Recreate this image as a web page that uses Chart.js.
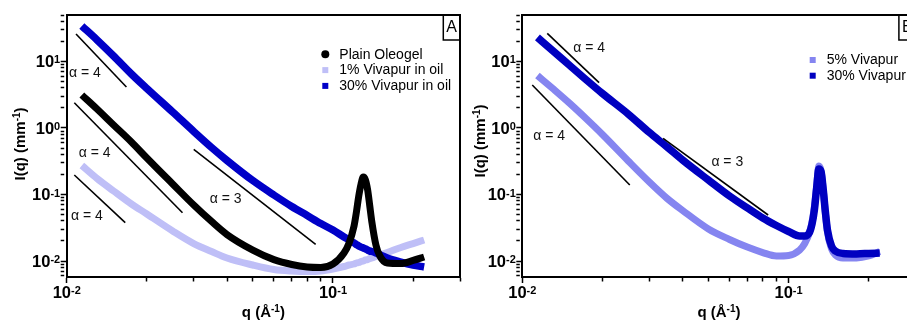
<!DOCTYPE html>
<html>
<head>
<meta charset="utf-8">
<script src="https://cdn.jsdelivr.net/npm/chart.js@4.4.1/dist/chart.umd.min.js"></script>
<style>
html, body { margin: 0; padding: 0; background: #fff; overflow: hidden; }
#wrap { position: relative; width: 907px; height: 320px; overflow: hidden; background: #fff; }
#cA { position: absolute; left: 0; top: 0; width: 467px; height: 320px; }
#cB { position: absolute; left: 467px; top: 0; width: 470px; height: 320px; }
</style>
</head>
<body>
<div id="wrap">
  <canvas id="cA" width="467" height="320"></canvas>
  <canvas id="cB" width="470" height="320"></canvas>
</div>
<script>
// ---------------- DATA ----------------
// Panel A : q (1/Å) and I(q) (1/mm)
const qA = [0.0114, 0.013, 0.015, 0.0175, 0.02, 0.025, 0.03, 0.035, 0.04, 0.05, 0.06, 0.07, 0.08, 0.09, 0.1,
            0.11, 0.115, 0.12, 0.1225, 0.125, 0.1275, 0.13, 0.1325, 0.135, 0.1375, 0.14, 0.145, 0.15, 0.16, 0.18, 0.2, 0.22];
const plainOleogel = [3.14, 1.93, 1.11, 0.616, 0.354, 0.144, 0.0695, 0.0393, 0.0250, 0.0146, 0.0105, 0.00886, 0.00813, 0.00799, 0.00902,
            0.0132, 0.0187, 0.0336, 0.0546, 0.0949, 0.144, 0.183, 0.165, 0.117, 0.0672, 0.0386, 0.0174, 0.0119, 0.00933, 0.00917, 0.0102, 0.0115];
const vivapur1 = [0.273, 0.174, 0.113, 0.0720, 0.0509, 0.0283, 0.0183, 0.0139, 0.0111, 0.00871, 0.00745, 0.00707, 0.00695, 0.00707, 0.00758,
            0.00827, 0.00871, 0.00902, 0.00933, 0.00949, 0.00983, 0.0100, 0.0104, 0.0105, 0.0109, 0.0111, 0.0117, 0.0123, 0.0134, 0.0160, 0.0183, 0.0207];
const vivapur30A = [34.2, 21.1, 12.1, 6.49, 3.93, 1.74, 0.886, 0.509, 0.325, 0.162, 0.0983, 0.0660, 0.0483, 0.0366, 0.0292,
            0.0230, 0.0207, 0.0187, 0.0177, 0.0168, 0.0162, 0.0157, 0.0152, 0.0146, 0.0141, 0.0139, 0.0132, 0.0125, 0.0111, 0.00966, 0.00871, 0.00813];

// Panel B
const qB = [0.0114, 0.013, 0.015, 0.0175, 0.02, 0.025, 0.03, 0.035, 0.04, 0.05, 0.06, 0.07, 0.08, 0.09, 0.1,
            0.11, 0.115, 0.12, 0.1225, 0.125, 0.1275, 0.13, 0.1325, 0.135, 0.1375, 0.14, 0.145, 0.15, 0.16, 0.18, 0.2, 0.22];
const vivapur5 = [6.16, 3.93, 2.38, 1.34, 0.798, 0.319, 0.154, 0.0871, 0.0575, 0.0303, 0.0211, 0.0162, 0.0134, 0.0119, 0.0121,
            0.0146, 0.0183, 0.0273, 0.0386, 0.0649, 0.134, 0.268, 0.226, 0.117, 0.0527, 0.0273, 0.0152, 0.0123, 0.0111, 0.0111, 0.0119, 0.0139];
const vivapur30B = [23.0, 14.6, 8.86, 5.18, 3.30, 1.62, 0.856, 0.518, 0.330, 0.165, 0.0949, 0.0627, 0.0443, 0.0342, 0.0278,
            0.0238, 0.0238, 0.0273, 0.0360, 0.0585, 0.125, 0.242, 0.218, 0.117, 0.0546, 0.0292, 0.0168, 0.0141, 0.0130, 0.0128, 0.0130, 0.0132];

// Power-law guide lines (two end points each) and their labels
const guideQA = [[0.01084, 0.01676], [0.01068, 0.02722], [0.01068, 0.01659], [0.0300, 0.0861]];
const guideIA = [[25.9, 4.14], [2.40, 0.0532], [0.1965, 0.0377], [0.478, 0.0178]];
const slopeTextA = ['α = 4', 'α = 4', 'α = 4', 'α = 3'];
const slopeQA = [0.0102, 0.01109, 0.01038, 0.03446];
const slopeIA = [6.71, 0.425, 0.0475, 0.0856];

const guideQB = [[0.01241, 0.01942], [0.0109, 0.02533], [0.03379, 0.0838]];
const guideIB = [[26.4, 4.80], [4.43, 0.139], [0.700, 0.0492]];
const slopeTextB = ['α = 4', 'α = 4', 'α = 3'];
const slopeQB = [0.01553, 0.011, 0.0513];
const slopeIB = [15.8, 0.745, 0.311];

// Axes
const xRange = [0.01, 0.3];
const yRange = [0.00575, 50];
const xTicks = [0.01, 0.02, 0.03, 0.04, 0.05, 0.06, 0.07, 0.08, 0.09, 0.1, 0.2, 0.3];
const yTicks = [0.006, 0.007, 0.008, 0.009, 0.01, 0.02, 0.03, 0.04, 0.05, 0.06, 0.07, 0.08, 0.09,
                0.1, 0.2, 0.3, 0.4, 0.5, 0.6, 0.7, 0.8, 0.9, 1, 2, 3, 4, 5, 6, 7, 8, 9, 10, 20, 30, 40, 50];
const xTitle = ['q (Å', '-1', ')'];
const yTitle = ['I(q) (mm', '-1', ')'];
const panelLetters = ['A', 'B'];

// ---------------- RENDERING ----------------
const FONT = '"Liberation Sans", Arial, Helvetica, sans-serif';
const isPow10 = v => Math.abs(Math.log10(v) - Math.round(Math.log10(v))) < 1e-9;

function series(q, I, label, color, width, order, shape) {
  return {
    label, data: q.map((v, i) => ({ x: v, y: I[i] })),
    borderColor: color, backgroundColor: color, borderWidth: width,
    pointRadius: 0, pointHoverRadius: 0, fill: false,
    cubicInterpolationMode: 'monotone', borderJoinStyle: 'round', borderCapStyle: 'butt',
    order, isSeries: true, markerShape: shape
  };
}
function guides(qs, Is) {
  return qs.map((q, i) => ({
    label: '', data: [{ x: q[0], y: Is[i][0] }, { x: q[1], y: Is[i][1] }],
    borderColor: '#000', borderWidth: 1.6, pointRadius: 0, pointHoverRadius: 0,
    fill: false, order: 0
  }));
}

function drawRich(ctx, pieces, x, y, align) {
  let w = 0;
  pieces.forEach(p => { ctx.font = p.f; p.w = ctx.measureText(p.t).width; w += p.w; });
  let cx = align === 'center' ? x - w / 2 : (align === 'right' ? x - w : x);
  ctx.textAlign = 'left';
  ctx.textBaseline = 'alphabetic';
  pieces.forEach(p => { ctx.font = p.f; ctx.fillText(p.t, cx, y - (p.r || 0)); cx += p.w; });
}
function powPieces(v) {
  return [{ t: '10', f: 'bold 16.5px ' + FONT }, { t: String(Math.round(Math.log10(v))), f: 'bold 11px ' + FONT, r: 3.9 }];
}
function titlePieces(parts) {
  return [{ t: parts[0], f: 'bold 15px ' + FONT }, { t: parts[1], f: 'bold 10px ' + FONT, r: 5 }, { t: parts[2], f: 'bold 15px ' + FONT }];
}

function makeDecor(cfg) {
  return {
    id: 'decor' + cfg.letter,
    afterDraw(chart) {
      const ctx = chart.ctx, a = chart.chartArea, xs = chart.scales.x, ys = chart.scales.y;
      ctx.save();
      ctx.fillStyle = '#000';
      ctx.strokeStyle = '#000';
      // top & right frame
      ctx.lineWidth = 2;
      ctx.beginPath();
      ctx.moveTo(a.left, a.top); ctx.lineTo(a.right, a.top); ctx.lineTo(a.right, a.bottom);
      ctx.stroke();
      // panel letter box
      ctx.lineWidth = 1.5;
      ctx.strokeRect(a.right - 16.7, a.top, 16.7, 25);
      ctx.font = '16px ' + FONT; ctx.textAlign = 'center'; ctx.textBaseline = 'middle';
      ctx.fillText(cfg.letter, a.right - 8.3, a.top + 13);
      // tick labels
      xs.ticks.filter(t => t.major).forEach(t => {
        drawRich(ctx, powPieces(t.value), xs.getPixelForValue(t.value), a.bottom + 21, 'center');
      });
      ys.ticks.filter(t => t.major).forEach(t => {
        drawRich(ctx, powPieces(t.value), a.left - 6.5, ys.getPixelForValue(t.value) + 5.9, 'right');
      });
      // axis titles
      drawRich(ctx, titlePieces(xTitle), (a.left + a.right) / 2, a.bottom + 39.5, 'center');
      ctx.save();
      ctx.translate(cfg.yTitleX, cfg.yTitleY);
      ctx.rotate(-Math.PI / 2);
      drawRich(ctx, titlePieces(yTitle), 0, 0, 'center');
      ctx.restore();
      // slope labels
      ctx.font = '14px ' + FONT; ctx.textAlign = 'left'; ctx.textBaseline = 'middle'; ctx.fillStyle = '#111';
      cfg.slopeText.forEach((s, i) => {
        ctx.fillText(s, xs.getPixelForValue(cfg.slopeQ[i]), ys.getPixelForValue(cfg.slopeI[i]));
      });
      // legend
      const items = chart.data.datasets.filter(d => d.isSeries);
      const mx = a.right - cfg.legendDX;
      items.forEach((d, i) => {
        const my = a.top + cfg.legendDY + i * cfg.legendRow;
        ctx.fillStyle = d.borderColor;
        if (d.markerShape === 'circle') {
          ctx.beginPath(); ctx.arc(mx, my, 4, 0, Math.PI * 2); ctx.fill();
        } else {
          ctx.fillRect(mx - 3, my - 3, 6, 6);
        }
        ctx.fillStyle = '#000';
        ctx.font = '14px ' + FONT; ctx.textAlign = 'left'; ctx.textBaseline = 'middle';
        ctx.fillText(d.label, mx + 14, my + 0.5);
      });
      ctx.restore();
    }
  };
}

function scalesCfg(leftW) {
  const dash = c => (c.tick && c.tick.major) ? [] : [3.5, 40];
  const axis = (pos, range, ticks, fit) => ({
    type: 'logarithmic', position: pos, min: range[0], max: range[1], bounds: 'data',
    border: { display: true, color: '#000', width: 2 },
    grid: { display: true, drawOnChartArea: false, drawTicks: true, tickLength: 6,
            tickColor: '#000', tickWidth: 1.5, tickBorderDash: dash },
    ticks: { display: false },
    afterBuildTicks: s => { s.ticks = ticks.map(v => ({ value: v, major: isPow10(v) })); },
    afterFit: fit
  });
  return {
    x: axis('bottom', xRange, xTicks, s => { s.height = 43; }),
    y: axis('left', yRange, yTicks, s => { s.width = leftW; })
  };
}

function makeChart(id, datasets, leftW, rightPad, cfg) {
  return new Chart(document.getElementById(id), {
    type: 'line',
    data: { datasets },
    options: {
      responsive: false, animation: false, devicePixelRatio: 1, events: [],
      layout: { padding: { left: 0, top: 15, right: rightPad, bottom: 0 } },
      scales: scalesCfg(leftW),
      plugins: { legend: { display: false }, tooltip: { enabled: false } }
    },
    plugins: [makeDecor(cfg)]
  });
}

makeChart('cA', [
  series(qA, plainOleogel, 'Plain Oleogel', '#000000', 7, 1, 'circle'),
  series(qA, vivapur1, '1% Vivapur in oil', '#bfbff7', 7, 3, 'rect'),
  series(qA, vivapur30A, '30% Vivapur in oil', '#0000c8', 7.5, 2, 'rect'),
  ...guides(guideQA, guideIA)
], 66.7, 7, {
  letter: panelLetters[0], yTitleX: 24.5, yTitleY: 144,
  legendDX: 134.7, legendDY: 39.3, legendRow: 15.8,
  slopeText: slopeTextA, slopeQ: slopeQA, slopeI: slopeIA
});

makeChart('cB', [
  series(qB, vivapur5, '5% Vivapur', '#8585f0', 7, 3, 'rect'),
  series(qB, vivapur30B, '30% Vivapur', '#0000c0', 7.5, 2, 'rect'),
  ...guides(guideQB, guideIB)
], 55.3, 21.4, {
  letter: panelLetters[1], yTitleX: 17.5, yTitleY: 141,
  legendDX: 102.9, legendDY: 45, legendRow: 15.7,
  slopeText: slopeTextB, slopeQ: slopeQB, slopeI: slopeIB
});
</script>
</body>
</html>
